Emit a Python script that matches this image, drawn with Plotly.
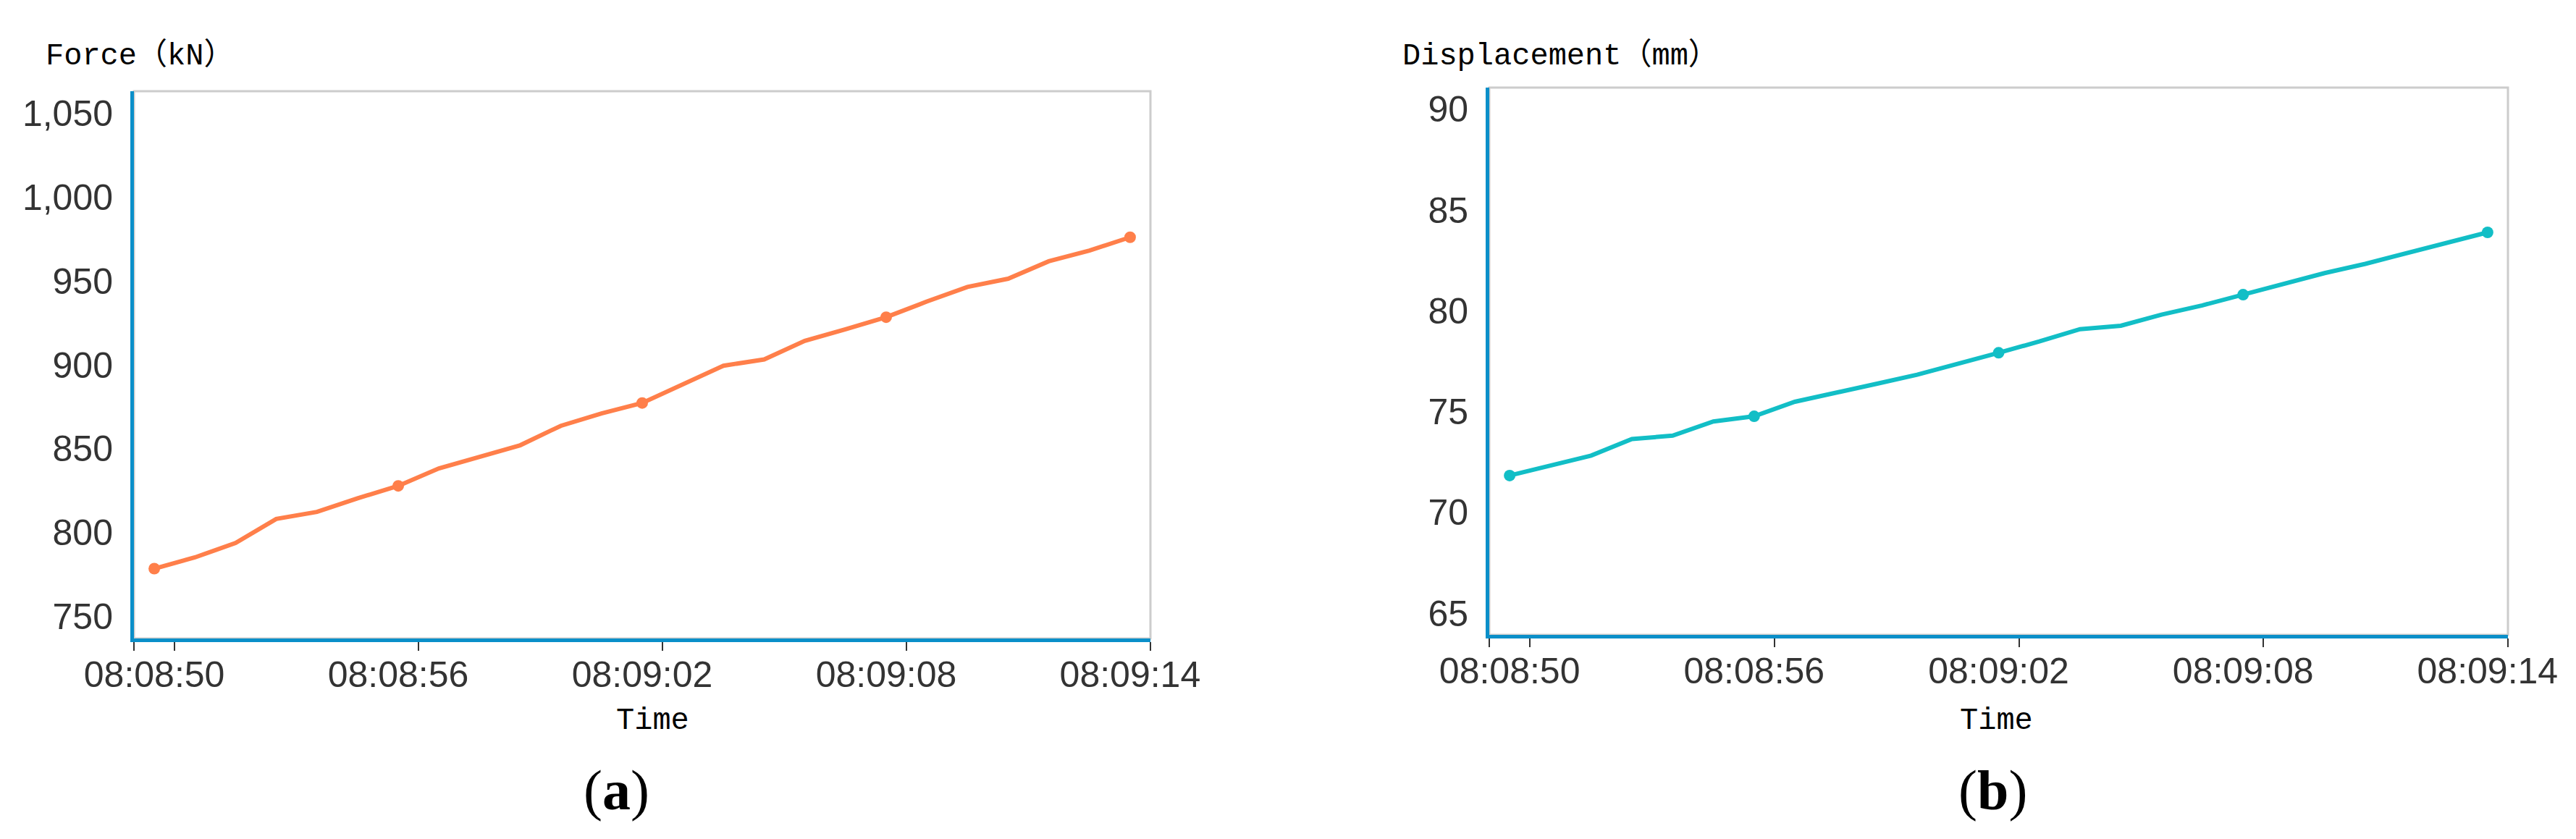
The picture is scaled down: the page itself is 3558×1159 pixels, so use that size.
import plotly.graph_objects as go

# sample times (one reading per second) and the two measured series
day = "2023-05-10 "
times = ["08:08:50", "08:08:51", "08:08:52", "08:08:53", "08:08:54", "08:08:55",
         "08:08:56", "08:08:57", "08:08:58", "08:08:59", "08:09:00", "08:09:01",
         "08:09:02", "08:09:03", "08:09:04", "08:09:05", "08:09:06", "08:09:07",
         "08:09:08", "08:09:09", "08:09:10", "08:09:11", "08:09:12", "08:09:13",
         "08:09:14"]
force_kn = [778.6, 785.3, 793.9, 808.2, 812.4, 820.5, 827.9, 838.3, 845.2, 852.1,
            863.7, 871.1, 877.3, 888.4, 899.5, 903.2, 914.3, 921.2, 928.4, 937.7,
            946.4, 951.3, 961.7, 968.1, 976.0]
displacement_mm = [71.83, 72.35, 72.82, 73.64, 73.81, 74.51, 74.77, 75.49, 75.91, 76.38,
                   76.83, 77.35, 77.92, 78.48, 79.09, 79.26, 79.81, 80.27, 80.80, 81.36,
                   81.87, 82.33, 82.86, 83.37, 83.89]
tick_labels = ["08:08:50", "08:08:56", "08:09:02", "08:09:08", "08:09:14"]
tick_marks = ["08:08:49.5", "08:08:50.5", "08:08:56.5", "08:09:02.5", "08:09:08.5", "08:09:14.5"]

# the page body keeps its default 8px margin, so the figure is a little smaller
PAD = 8
W, H = 3558 - 2 * PAD, 1159 - 2 * PAD
BLUE = "#0a8fc9"
GREY = "#cccccc"
TXT = "#333333"
TICK_FONT = dict(family="Liberation Sans, Arial, sans-serif", size=50, color=TXT)
MONO = "Liberation Mono, Noto Sans CJK SC, monospace"


def fx(px):  # window pixel -> paper fraction
    return (px - PAD) / W


def fy(py):
    return 1 - (py - PAD) / H


x = [day + t for t in times]
step = 6  # a symbol is shown every 6th sample

fig = go.Figure()
fig.add_trace(go.Scatter(x=x, y=force_kn, mode="lines", line=dict(color="#ff7f4a", width=6),
                         xaxis="x", yaxis="y", showlegend=False))
fig.add_trace(go.Scatter(x=x[::step], y=force_kn[::step], mode="markers",
                         marker=dict(color="#ff7f4a", size=16), xaxis="x", yaxis="y", showlegend=False))
fig.add_trace(go.Scatter(x=x, y=displacement_mm, mode="lines", line=dict(color="#12bec6", width=6),
                         xaxis="x2", yaxis="y2", showlegend=False))
fig.add_trace(go.Scatter(x=x[::step], y=displacement_mm[::step], mode="markers",
                         marker=dict(color="#12bec6", size=16), xaxis="x2", yaxis="y2", showlegend=False))


def xax(domain, anchor):
    return dict(domain=domain, anchor=anchor, type="date", automargin=False,
                range=[day + "08:08:49.5", day + "08:09:14.5"],
                tickmode="array", tickvals=[day + t for t in tick_labels], ticktext=tick_labels,
                ticks="", ticklabelstandoff=2, tickfont=TICK_FONT,
                minor=dict(tickmode="array", tickvals=[day + t for t in tick_marks],
                           ticks="outside", ticklen=12, tickwidth=2, tickcolor=TXT),
                showline=True, linecolor=BLUE, linewidth=5, showgrid=False, zeroline=False)


def yax(domain, anchor, rng, tick0, dtick):
    return dict(domain=domain, anchor=anchor, range=rng, tick0=tick0, dtick=dtick, automargin=False,
                tickformat=",", ticks="", ticklabelstandoff=14, tickfont=TICK_FONT,
                showline=True, linecolor=BLUE, linewidth=5, showgrid=False, zeroline=False)


fig.update_layout(
    width=W, height=H,
    margin=dict(l=0, r=0, t=0, b=0),
    paper_bgcolor="white", plot_bgcolor="white",
    xaxis=xax([fx(185), fx(1589)], "y"),
    yaxis=yax([fy(882), fy(126)], "x", [737, 1063], 750, 50),
    xaxis2=xax([fx(2057), fx(3464)], "y2"),
    yaxis2=yax([fy(877), fy(121)], "x2", [63.93, 91.07], 65, 5),
)

# light grey frame round each plot area
for xr, yr in (("x domain", "y domain"), ("x2 domain", "y2 domain")):
    fig.add_shape(type="rect", xref=xr, yref=yr, x0=0, x1=1, y0=0, y1=1,
                  line=dict(color=GREY, width=3), layer="below")

notes = [
    ("Force（kN）", 61, 78, "left", dict(family=MONO, size=42, color="#000")),
    ("Displacement（mm）", 1935, 78, "left", dict(family=MONO, size=42, color="#000")),
    ("Time", 901, 996, "center", dict(family=MONO, size=42, color="#000")),
    ("Time", 2757, 996, "center", dict(family=MONO, size=42, color="#000")),
    ("(<b>a</b>)", 851, 1091, "center", dict(family="Liberation Serif, Times New Roman, serif", size=78, color="black")),
    ("(<b>b</b>)", 2752, 1091, "center", dict(family="Liberation Serif, Times New Roman, serif", size=78, color="black")),
]
for text, px, py, anchor, font in notes:
    fig.add_annotation(text=text, xref="paper", yref="paper", x=fx(px), y=fy(py),
                       xanchor=anchor, yanchor="middle", showarrow=False, font=font)

fig.write_html("out.html")
